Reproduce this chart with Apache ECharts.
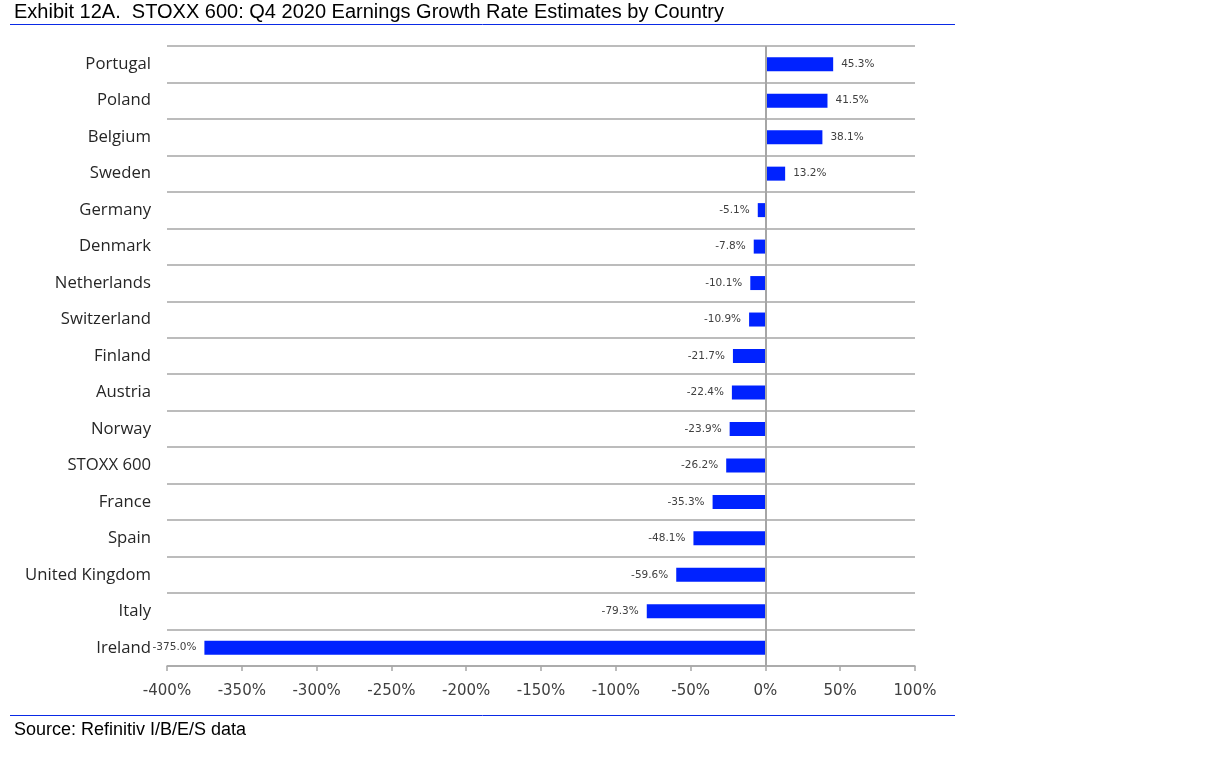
<!DOCTYPE html>
<html>
<head>
<meta charset="utf-8">
<script src="https://cdn.jsdelivr.net/npm/echarts@6/dist/echarts.min.js"></script>
<style>
html,body{margin:0;padding:0;background:#fff;}
#chart{width:1220px;height:760px;}
</style>
</head>
<body>
<div id="chart"></div>
<script>
const categories = ['Portugal','Poland','Belgium','Sweden','Germany','Denmark','Netherlands','Switzerland','Finland','Austria','Norway','STOXX 600','France','Spain','United Kingdom','Italy','Ireland'];
const growthValues = [45.3, 41.5, 38.1, 13.2, -5.1, -7.8, -10.1, -10.9, -21.7, -22.4, -23.9, -26.2, -35.3, -48.1, -59.6, -79.3, -375.0];
const titleText = 'Exhibit 12A.  STOXX 600: Q4 2020 Earnings Growth Rate Estimates by Country';
const sourceText = 'Source: Refinitiv I/B/E/S data';

const chart = echarts.init(document.getElementById('chart'), null, {renderer: 'canvas'});
const barData = growthValues.map(v => ({
  value: v,
  label: { position: v >= 0 ? 'right' : 'left' }
}));

chart.setOption({
  backgroundColor: '#ffffff',
  animation: false,
  title: [
    { text: titleText, left: 14, top: 2, padding: 0,
      textStyle: { fontFamily: 'Liberation Sans, Arial', fontSize: 20, fontWeight: 'normal', color: '#000' } },
    { text: sourceText, left: 14, top: 721, padding: 0,
      textStyle: { fontFamily: 'Liberation Sans, Arial', fontSize: 18, fontWeight: 'normal', color: '#000' } }
  ],
  graphic: [
    { type: 'line', shape: { x1: 10, y1: 24.5, x2: 955, y2: 24.5 }, style: { stroke: '#0a2ae6', lineWidth: 1 } },
    { type: 'line', shape: { x1: 10, y1: 715.5, x2: 955, y2: 715.5 }, style: { stroke: '#0a2ae6', lineWidth: 1 } }
  ],
  grid: { left: 167, right: 305, top: 46, bottom: 94, containLabel: false },
  xAxis: {
    type: 'value', min: -400, max: 100, interval: 50,
    axisLine: { show: true, lineStyle: { color: '#a6a6a6', width: 1.5 } },
    axisTick: { show: true, length: 5, lineStyle: { color: '#a6a6a6', width: 1.5 } },
    splitLine: { show: false },
    axisLabel: { formatter: '{value}%', margin: 18, fontFamily: 'DejaVu Sans', fontSize: 15, color: '#404040' }
  },
  yAxis: {
    type: 'category', data: categories, inverse: true,
    axisLine: { show: false }, axisTick: { show: false },
    splitLine: { show: true, lineStyle: { color: '#a6a6a6', width: 1.5 } },
    axisLabel: { margin: 16, fontFamily: 'Open Sans', fontSize: 16.7, color: '#262626' }
  },
  series: [{
    type: 'bar',
    data: barData,
    barWidth: 14,
    itemStyle: { color: '#0022ff' },
    label: {
      show: true, distance: 8,
      fontFamily: 'DejaVu Sans', fontSize: 10.5, color: '#404040',
      formatter: p => p.value.toFixed(1) + '%'
    },
    markLine: {
      silent: true, symbol: 'none', label: { show: false },
      lineStyle: { color: '#a6a6a6', width: 2, type: 'solid' },
      data: [{ xAxis: 0 }]
    }
  }]
});
</script>
</body>
</html>
